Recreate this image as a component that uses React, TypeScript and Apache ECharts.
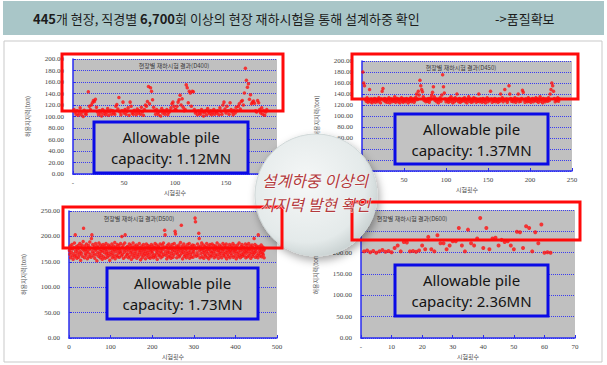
import React, { useEffect, useRef } from "react";
import * as echarts from "echarts";

// ---- texts ----
const headerMain = "{b|445}개 현장, 직경별 {b|6,700}회 이상의 현장 재하시험을 통해 설계하중 확인";
const headerTail = "->품질확보";
const circleLines = ["설계하중 이상의", "지지력 발현 확인"];
const panelTitles = [
  "현장별 재하시험 결과(D400)",
  "현장별 재하시험 결과(D450)",
  "현장별 재하시험 결과(D500)",
  "현장별 재하시험 결과(D600)",
];
const capacityLine1 = "Allowable pile";
const capacities = ["1.12MN", "1.37MN", "1.73MN", "2.36MN"];
const xAxisTitle = "시험횟수";
const yAxisTitle = "허용지지력(ton)";

// ---- axis scales ----
const xMax = [200, 250, 500, 70];
const xStep = [50, 50, 100, 10];
const yMax = [200, 200, 250, 300];
const yStep = [20, 20, 50, 50];
const zeroLabel = ["-", "-", "0", "-"];
// tick labels that the central circle hides in the reference
const hiddenXTicks = [[200], [0], [], []];
const hiddenYTicks = [[], [0, 20, 40], [], [250, 300]];

// ---- series values (x = test number) ----
const d400 = [
  112,108,104,110,102,106,115,103,108,100,111,105,104,109,143,118,112,120,124,128,
  126,130,116,108,103,110,106,101,112,105,109,103,107,114,102,108,111,104,110,106,
  104,118,121,113,133,108,103,110,125,106,112,104,109,115,102,125,118,106,104,111,
  108,103,113,106,110,104,116,108,102,112,120,118,126,152,122,150,144,129,116,110,
  104,112,107,103,109,101,114,106,110,104,108,112,103,107,110,115,122,125,118,112,
  112,118,125,129,137,120,131,116,110,112,155,150,124,144,141,118,144,143,112,106,
  109,103,110,106,104,112,108,101,107,110,103,114,108,105,110,103,107,112,104,109,
  106,110,103,115,109,104,120,125,113,106,118,110,104,124,112,108,103,111,106,116,
  110,118,122,113,126,128,120,141,184,163,151,157,130,138,122,125,127,123,110,108,
  128,124,112,106,115,104,110,102,108,112,
];
const d450 = [
  180,160,155,130,127,133,125,128,148,126,131,124,129,127,132,125,130,128,126,133,
  129,124,131,145,150,128,132,126,130,125,129,133,124,128,131,126,130,127,135,125,
  128,132,126,130,124,129,133,127,125,131,128,126,132,129,124,130,127,133,126,129,
  131,125,128,134,140,130,145,138,165,155,148,144,135,128,131,126,130,127,132,125,
  129,133,138,143,153,135,128,131,126,130,124,129,133,127,138,175,153,142,131,126,
  130,128,125,132,127,135,129,124,131,126,133,128,140,130,126,132,125,129,127,131,
  128,133,126,130,124,129,135,127,131,125,129,126,133,128,132,125,130,127,140,126,
  131,128,125,132,127,130,124,129,133,126,130,128,145,131,125,129,127,132,126,130,
  128,125,131,127,140,129,133,126,130,148,128,131,125,129,155,140,132,127,130,126,
  129,133,125,128,131,140,126,130,127,132,147,143,129,125,131,128,126,133,127,130,
  125,129,132,126,130,128,133,127,131,125,129,135,127,130,124,132,128,126,131,129,
  127,133,128,140,148,160,155,145,132,126,130,128,133,127,131,
];
const d500 = [
  172,165,181,158,176,169,184,162,175,155,178,166,187,160,203,171,163,180,157,174,
  168,182,159,177,164,186,170,153,179,167,183,161,175,190,216,172,158,181,166,174,
  163,185,171,156,178,168,182,160,174,189,165,177,159,196,203,170,184,162,176,167,
  180,157,173,186,164,175,152,181,169,178,161,187,166,174,158,183,170,163,179,155,
  172,184,160,176,168,181,157,174,186,165,171,159,179,167,183,162,175,153,180,169,
  164,177,185,158,172,166,181,161,174,188,156,170,179,163,176,184,160,173,167,182,
  159,175,168,186,171,162,200,178,165,183,157,174,169,187,203,160,177,172,164,180,
  166,179,158,173,185,161,176,168,182,155,171,164,178,187,159,174,167,181,162,175,
  170,183,157,176,165,180,161,173,186,168,177,154,172,164,181,158,175,169,184,162,
  174,166,179,156,171,185,163,177,168,182,159,173,165,180,157,176,170,184,161,172,
  167,181,158,175,163,178,186,160,172,166,183,155,174,169,180,162,177,164,185,171,
  158,176,168,183,161,174,187,165,179,212,203,170,163,178,156,182,167,173,160,185,
  169,177,162,180,157,175,166,184,171,159,178,164,186,172,210,205,168,181,158,174,
  165,179,170,183,160,176,163,188,172,222,167,181,156,174,169,185,161,177,164,180,
  171,158,175,166,184,162,178,169,186,157,173,165,180,160,176,168,183,159,174,170,
  182,164,236,229,177,161,175,168,185,163,179,206,196,172,158,181,166,174,187,160,
  176,169,183,157,172,165,180,162,178,170,186,159,174,167,181,156,175,163,184,171,
  160,178,168,185,163,176,170,182,158,174,166,181,161,177,172,187,164,179,157,173,
  169,183,162,175,167,180,158,176,171,186,163,174,166,182,160,178,169,185,156,172,
  165,179,161,176,170,184,158,173,167,181,163,177,172,186,159,175,168,182,162,174,
  171,156,178,166,183,160,175,169,187,163,176,158,172,180,165,184,161,174,168,179,
  163,177,170,185,158,173,167,182,160,176,171,186,162,175,166,181,157,174,169,183,
  161,178,165,172,196,168,184,159,175,170,181,163,177,158,203,166,180,172,162,176,
  169,183,160,174,167,179,164,172,158,175,
];
const d600 = [
  203,205,201,204,200,203,206,202,204,201,
  211,217,203,225,224,203,204,202,205,217,
  208,237,208,203,241,222,222,208,217,227,
  227,258,217,203,254,222,217,233,281,211,
  258,208,233,235,217,230,225,227,217,208,
  249,248,211,262,258,203,248,222,266,200,
  201,200,
];
const panelValues = [d400, d450, d500, d600];

// ---- layout (pixels) ----
const grids = [
  { left: 73, top: 59, width: 204, height: 115 },
  { left: 362, top: 61, width: 210, height: 110 },
  { left: 69, top: 211, width: 208, height: 127 },
  { left: 361, top: 210, width: 214, height: 128 },
];
const redBoxes = [
  { x: 62, y: 54, width: 221, height: 57 },
  { x: 352, y: 54, width: 226, height: 45 },
  { x: 63, y: 207, width: 219, height: 41 },
  { x: 352, y: 202, width: 228, height: 38 },
];
const blueBoxes = [
  { x: 94, y: 122, width: 154, height: 51 },
  { x: 395, y: 114, width: 153, height: 50 },
  { x: 107, y: 268, width: 151, height: 51 },
  { x: 395, y: 265, width: 153, height: 51 },
];
const titlePos = [
  { x: 174, y: 65 },
  { x: 461, y: 67 },
  { x: 139, y: 218 },
  { x: 412, y: 218 },
];

const BLUE = "#2a2cf0";
const SERIF = "'Liberation Serif', 'DejaVu Serif', serif";
const KR = "'Noto Sans CJK KR', sans-serif";

export default function App() {
  const ref = useRef<HTMLDivElement>(null);
  useEffect(() => {
    if (!ref.current) return;
    const chart = echarts.init(ref.current, undefined, { renderer: "svg" });

    const graphics: any[] = [];
    graphics.push({
      type: "rect",
      shape: { x: 3, y: 1, width: 601, height: 34 },
      style: { fill: "#a9c6c8" },
      z: 1,
    });
    graphics.push({
      type: "text",
      x: 33,
      y: 18,
      style: {
        text: headerMain,
        font: `13px ${KR}`,
        fill: "#1c1c1c",
        textVerticalAlign: "middle",
        rich: { b: { fontWeight: "bold", fontSize: 13, fontFamily: KR, fill: "#1c1c1c" } },
      },
      z: 2,
    });
    graphics.push({
      type: "text",
      x: 495,
      y: 18,
      style: { text: headerTail, font: `13px ${KR}`, fill: "#1c1c1c", textVerticalAlign: "middle" },
      z: 2,
    });
    graphics.push({
      type: "rect",
      shape: { x: 4, y: 41, width: 598, height: 321 },
      style: { fill: "none", stroke: "#c9c9c9", lineWidth: 1 },
      z: 1,
    });

    panelTitles.forEach((t, i) => {
      graphics.push({
        type: "text",
        x: titlePos[i].x,
        y: titlePos[i].y,
        style: {
          text: t,
          font: `6px ${KR}`,
          fill: "#3a3a3a",
          textAlign: "center",
          textVerticalAlign: "middle",
        },
        z: 5,
      });
    });

    graphics.push({
      type: "circle",
      shape: { cx: 316, cy: 195, r: 61 },
      style: {
        fill: {
          type: "radial",
          x: 0.42,
          y: 0.4,
          r: 0.65,
          colorStops: [
            { offset: 0, color: "#f5f7f7" },
            { offset: 0.75, color: "#e4eaea" },
            { offset: 1, color: "#c5cece" },
          ],
        },
        stroke: "#d0d8d8",
        lineWidth: 1,
        shadowBlur: 8,
        shadowOffsetX: 2,
        shadowOffsetY: 4,
        shadowColor: "rgba(0,0,0,0.35)",
      },
      z: 10,
    });
    circleLines.forEach((t, i) => {
      graphics.push({
        type: "text",
        x: 315,
        y: 180 + i * 23.5,
        style: {
          text: t,
          font: `italic 16px ${KR}`,
          fill: "#b33a3d",
          stroke: "rgba(255,255,255,0.8)",
          lineWidth: 1,
          textAlign: "center",
          textVerticalAlign: "middle",
        },
        z: 12,
      });
    });

    redBoxes.forEach((b) => {
      graphics.push({
        type: "rect",
        shape: b,
        style: { fill: "none", stroke: "#ff0a0a", lineWidth: 3 },
        z: 11,
      });
    });
    blueBoxes.forEach((b, i) => {
      graphics.push({
        type: "rect",
        shape: b,
        style: { fill: "#c2c2c2", stroke: "#0a0ae6", lineWidth: 3 },
        z: 13,
      });
      const cx = b.x + b.width / 2;
      const cy = b.y + b.height / 2;
      [capacityLine1, `capacity: ${capacities[i]}`].forEach((line, k) => {
        graphics.push({
          type: "text",
          x: cx,
          y: cy + (k === 0 ? -10.5 : 10.5),
          style: {
            text: line,
            font: `15px 'Noto Sans', sans-serif`,
            fill: "#141414",
            textAlign: "center",
            textVerticalAlign: "middle",
          },
          z: 14,
        });
      });
    });

    const option: any = {
      animation: false,
      backgroundColor: "#ffffff",
      grid: grids.map((g) => ({
        ...g,
        show: true,
        backgroundColor: "#c0c0c0",
        borderWidth: 0,
        containLabel: false,
      })),
      xAxis: grids.map((_, i) => ({
        type: "value",
        gridIndex: i,
        min: 0,
        max: xMax[i],
        interval: xStep[i],
        name: xAxisTitle,
        nameLocation: "middle",
        nameGap: 15,
        nameTextStyle: { fontSize: 6, color: "#444", fontFamily: KR },
        axisLine: { show: true, lineStyle: { color: BLUE, width: 1.5 } },
        axisTick: { show: true, inside: true, length: 3, lineStyle: { color: BLUE } },
        splitLine: { show: false },
        axisLabel: {
          fontSize: 7,
          color: "#444",
          fontFamily: SERIF,
          margin: 5,
          formatter: (v: number) =>
            hiddenXTicks[i].includes(v) ? "" : v === 0 ? zeroLabel[i] : String(v),
        },
      })),
      yAxis: grids.map((_, i) => ({
        type: "value",
        gridIndex: i,
        min: 0,
        max: yMax[i],
        interval: yStep[i],
        name: yAxisTitle,
        nameLocation: "middle",
        nameRotate: 90,
        nameGap: 43,
        nameTextStyle: { fontSize: 6, color: "#555", fontFamily: KR },
        axisLine: { show: true, lineStyle: { color: BLUE, width: 1.5 } },
        axisTick: { show: true, inside: true, length: 3, lineStyle: { color: BLUE } },
        splitLine: { show: true, lineStyle: { color: "#3a3cf0", width: 1, type: "dotted" } },
        axisLabel: {
          fontSize: 7,
          color: "#444",
          fontFamily: SERIF,
          margin: 9,
          formatter: (v: number) => (hiddenYTicks[i].includes(v) ? "" : v.toFixed(2)),
        },
      })),
      series: panelValues.map((vals, i) => ({
        type: "scatter",
        xAxisIndex: i,
        yAxisIndex: i,
        symbol: "circle",
        symbolSize: i === 3 ? 4 : 3.5,
        itemStyle: { color: "#ff1010" },
        silent: true,
        data: vals.map((v, k) => [k + 1, v]),
      })),
      graphic: { elements: graphics },
    };

    chart.setOption(option);
    return () => chart.dispose();
  }, []);

  return (
    <div
      ref={ref}
      style={{ position: "fixed", left: 0, top: 0, width: 607, height: 365, background: "#fff" }}
    />
  );
}
